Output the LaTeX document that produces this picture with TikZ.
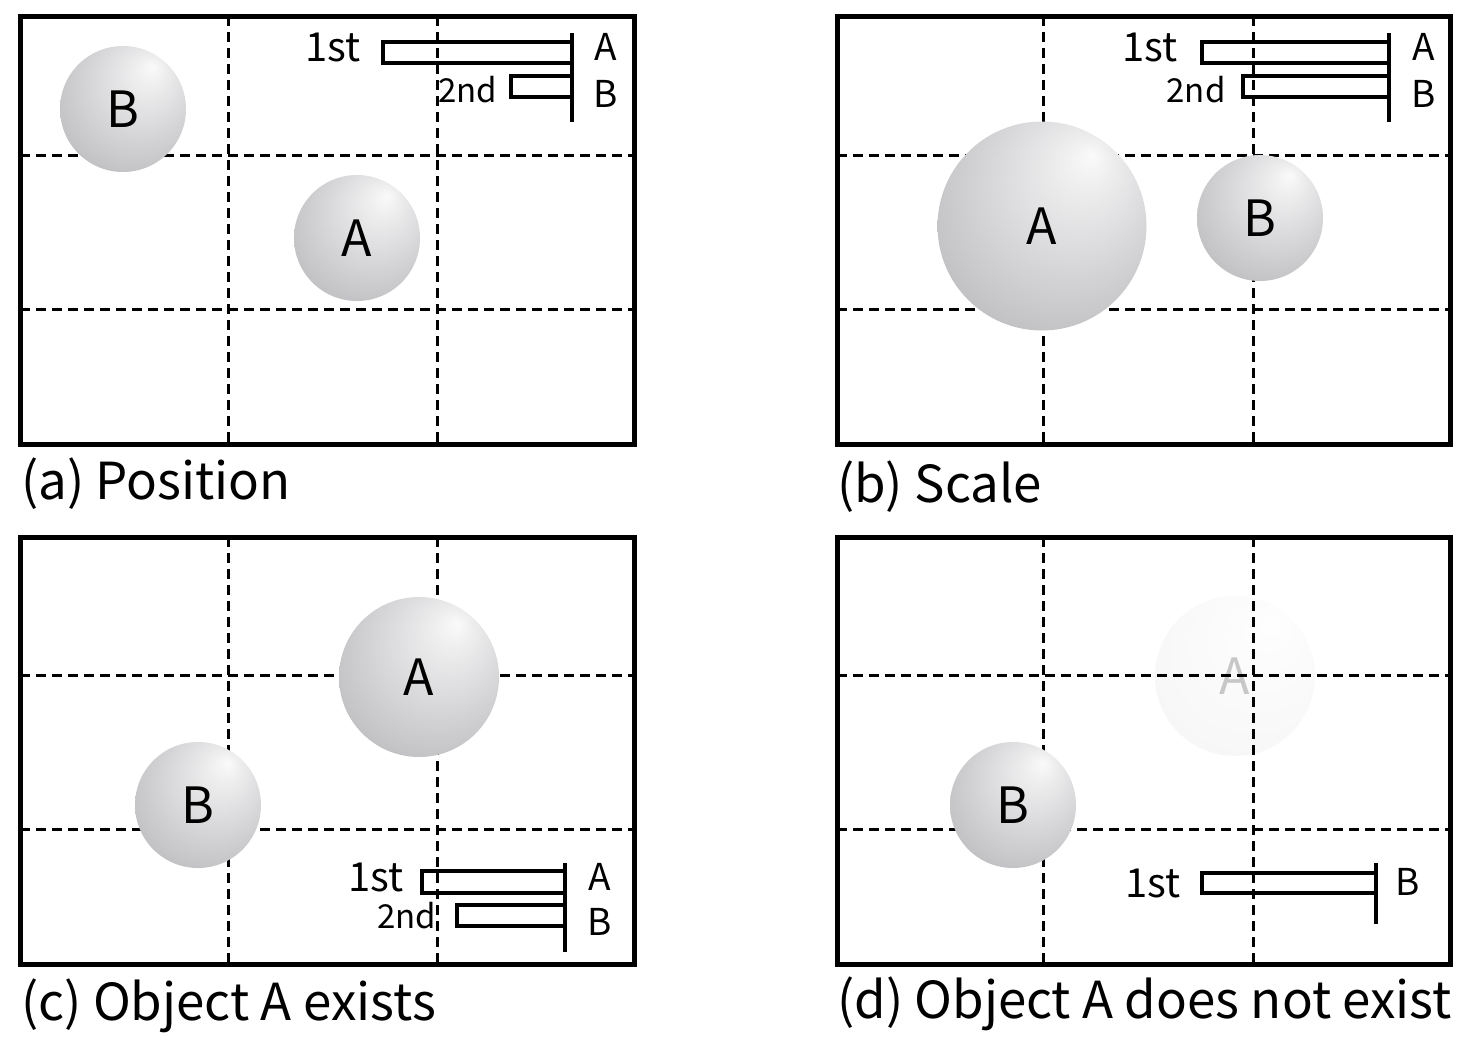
\documentclass[tikz,border=0pt]{standalone}
\usepackage{fontspec}
\setmainfont{Noto Sans CJK SC}
\definecolor{shl}{RGB}{250,250,250}
\definecolor{smidA}{RGB}{238,238,239}
\definecolor{smidB}{RGB}{218,218,220}
\definecolor{smidC}{RGB}{198,198,201}
\definecolor{smidD}{RGB}{176,176,180}
\definecolor{sedge}{RGB}{146,146,151}
\pgfdeclareradialshading{sphere}{\pgfpoint{12bp}{17bp}}{color(0bp)=(shl); color(6bp)=(smidA); color(18bp)=(smidB); color(30bp)=(smidC); color(41bp)=(smidD); color(50bp)=(sedge)}
\tikzset{
  frame/.style={line width=5pt},
  gridline/.style={line width=3pt, dash pattern=on 10pt off 6pt},
  barline/.style={line width=4pt},
  ball/.style={circle, shading=sphere, draw=none, inner sep=0pt, font=\fontsize{50}{50}\selectfont},
  faded/.style={ball, fill opacity=0.13, text opacity=1, text=black!22},
  captext/.style={anchor=west, inner sep=0pt, font=\fontsize{51}{51}\selectfont},
  lbig/.style={inner sep=0pt, font=\fontsize{40}{40}\selectfont},
  lsmall/.style={inner sep=0pt, font=\fontsize{33}{33}\selectfont},
  lname/.style={inner sep=0pt, font=\fontsize{37}{37}\selectfont},
}
\begin{document}
\begin{tikzpicture}[x=1pt,y=-1pt]
\useasboundingbox (0,0) rectangle (1466,1050);
% ---------- (a) ----------
\draw[gridline] (228,16) -- (228,444) (437,16) -- (437,444) (20,155) -- (634,155) (20,309) -- (634,309);
\draw[frame] (20,16) rectangle (634,444);
\node[ball, minimum size=126pt] (aB) at (123,109) {B};
\node[ball, minimum size=126pt] (aA) at (357,238) {A};
\draw[barline] (383,42) rectangle (572,63);
\draw[barline] (511,76) rectangle (572,97);
\draw[barline] (572,33) -- (572,122);
\node[lbig] (a1) at (333,47) {1st};
\node[lsmall] (a2) at (468,90) {2nd};
\node[lname] (aLA) at (606,47) {A};
\node[lname] (aLB) at (606,94) {B};
\node[captext] (capa) at (21,484) {(a) Position};
% ---------- (b) ----------
\draw[gridline] (1043,16) -- (1043,444) (1253,16) -- (1253,444) (837,155) -- (1450,155) (837,309) -- (1450,309);
\draw[frame] (837,16) rectangle (1450,444);
\node[ball, minimum size=209pt] (bA) at (1042,226) {A};
\node[ball, minimum size=126pt] (bB) at (1260,218) {B};
\draw[barline] (1202,42) rectangle (1389,63);
\draw[barline] (1243,76) rectangle (1389,97);
\draw[barline] (1389,33) -- (1389,122);
\node[lbig] (b1) at (1150,47) {1st};
\node[lsmall] (b2) at (1196,90) {2nd};
\node[lname] (bLA) at (1424,47) {A};
\node[lname] (bLB) at (1424,94) {B};
\node[captext] (capb) at (837,487) {(b) Scale};
% ---------- (c) ----------
\draw[gridline] (228,537) -- (228,964) (437,537) -- (437,964) (20,675) -- (634,675) (20,829) -- (634,829);
\draw[frame] (20,537) rectangle (634,964);
\node[ball, minimum size=160pt] (cA) at (419,677) {A};
\node[ball, minimum size=126pt] (cB) at (198,805) {B};
\draw[barline] (422,871) rectangle (565,893);
\draw[barline] (457,905) rectangle (565,926);
\draw[barline] (565,863) -- (565,952);
\node[lbig] (c1) at (376,877) {1st};
\node[lsmall] (c2) at (407,916) {2nd};
\node[lname] (cLA) at (600,877) {A};
\node[lname] (cLB) at (600,922) {B};
\node[captext] (capc) at (21,1006) {(c) Object A exists};
% ---------- (d) ----------
\node[faded, minimum size=160pt] (dA) at (1235,676) {A};
\draw[gridline] (1043,537) -- (1043,964) (1253,537) -- (1253,964) (837,675) -- (1450,675) (837,829) -- (1450,829);
\draw[frame] (837,537) rectangle (1450,964);
\node[ball, minimum size=126pt] (dB) at (1013,805) {B};
\draw[barline] (1202,873) rectangle (1376,893);
\draw[barline] (1376,863) -- (1376,924);
\node[lbig] (d1) at (1153,883) {1st};
\node[lname] (dLB) at (1408,882) {B};
\node[captext] (capd) at (837,1004) {(d) Object A does not exist};
\end{tikzpicture}
\end{document}
